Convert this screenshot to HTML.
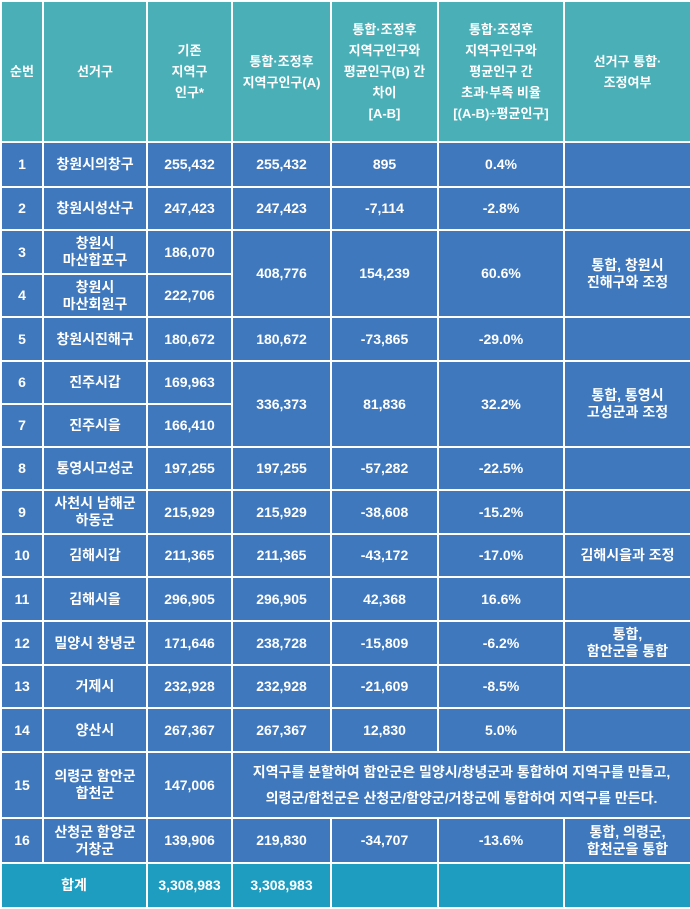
<!DOCTYPE html>
<html><head><meta charset="utf-8">
<style>
html,body{margin:0;padding:0;background:#fff}
#t{position:relative;width:690px;height:909px;overflow:hidden;font-family:"Liberation Sans","Noto Sans CJK KR",sans-serif;font-weight:bold;color:#fff}
.c{position:absolute;display:flex;align-items:center;justify-content:center;text-align:center;font-size:14px;line-height:17px;box-sizing:border-box}
.h{background:#4aafb7;font-size:13px;line-height:21px}
.b{background:#3f78bd}
.s{background:#1f9dc0}
</style></head>
<body>
<div id="t"></div>
<script>
const xs=[0,42,146,231,330,437,563,690];
const ys=[0,143,188,231,275,318,362,405,448,491,535,578,622,666,709,753,819,864,909];
const headers=["순번","선거구","기존<br>지역구<br>인구*","통합·조정후<br>지역구인구(A)","통합·조정후<br>지역구인구와<br>평균인구(B) 간<br>차이<br>[A-B]","통합·조정후<br>지역구인구와<br>평균인구 간<br>초과·부족 비율<br>[(A-B)÷평균인구]","선거구 통합·<br>조정여부"];
const nums=["1","2","3","4","5","6","7","8","9","10","11","12","13","14","15","16"];
const names=["창원시의창구","창원시성산구","창원시<br>마산합포구","창원시<br>마산회원구","창원시진해구","진주시갑","진주시을","통영시고성군","사천시 남해군<br>하동군","김해시갑","김해시을","밀양시 창녕군","거제시","양산시","의령군 함안군<br>합천군","산청군 함양군<br>거창군"];
const prior=["255,432","247,423","186,070","222,706","180,672","169,963","166,410","197,255","215,929","211,365","296,905","171,646","232,928","267,367","147,006","139,906"];
const after=["255,432","247,423","408,776",null,"180,672","336,373",null,"197,255","215,929","211,365","296,905","238,728","232,928","267,367",null,"219,830"];
const diff=["895","-7,114","154,239",null,"-73,865","81,836",null,"-57,282","-38,608","-43,172","42,368","-15,809","-21,609","12,830",null,"-34,707"];
const ratio=["0.4%","-2.8%","60.6%",null,"-29.0%","32.2%",null,"-22.5%","-15.2%","-17.0%","16.6%","-6.2%","-8.5%","5.0%",null,"-13.6%"];
const note=["","","통합, 창원시<br>진해구와 조정",null,"","통합, 통영시<br>고성군과 조정",null,"","","김해시을과 조정","","통합,<br>함안군을 통합","","",null,"통합, 의령군,<br>합천군을 통합"];
const t=document.getElementById('t');
function cell(c0,c1,r0,r1,html,cls,name){
  const d=document.createElement('div');
  d.className='c '+cls;
  const l=xs[c0]+2, r=xs[c1+1];
  const top=ys[r0]+(r0===0?2:0), bot=ys[r1+1]-2;
  d.style.left=l+'px';d.style.width=(r-l)+'px';
  d.style.top=top+'px';d.style.height=(bot-top)+'px';
  d.innerHTML=html;
  
  
  t.appendChild(d);
}
headers.forEach((h,i)=>cell(i,i,0,0,h,'h','header-'+(i+1)));
for(let i=0;i<16;i++){
  const r=i+1;
  cell(0,0,r,r,nums[i],'b','row-number-'+nums[i]);
  cell(1,1,r,r,names[i],'b','district-name-'+nums[i]);
  cell(2,2,r,r,prior[i],'b','prior-population-'+nums[i]);
  if(i===14){
    cell(3,6,r,r,'지역구를 분할하여 함안군은 밀양시/창녕군과 통합하여 지역구를 만들고,<br>의령군/합천군은 산청군/함양군/거창군에 통합하여 지역구를 만든다.','b','split-note');
    t.lastChild.style.lineHeight='26px';
    continue;
  }
  if(after[i]===null) continue;
  const span=(i===2||i===5)?1:0;
  cell(3,3,r,r+span,after[i],'b','adjusted-population-'+nums[i]);
  cell(4,4,r,r+span,diff[i],'b','difference-'+nums[i]);
  cell(5,5,r,r+span,ratio[i],'b','ratio-'+nums[i]);
  cell(6,6,r,r+span,note[i],'b','adjustment-note-'+nums[i]);
}
cell(0,1,17,17,'합계','s','total-label');
cell(2,2,17,17,'3,308,983','s','total-prior');
cell(3,3,17,17,'3,308,983','s','total-adjusted');
cell(4,4,17,17,'','s','total-difference');
cell(5,5,17,17,'','s','total-ratio');
cell(6,6,17,17,'','s','total-note');
</script>
</body></html>
